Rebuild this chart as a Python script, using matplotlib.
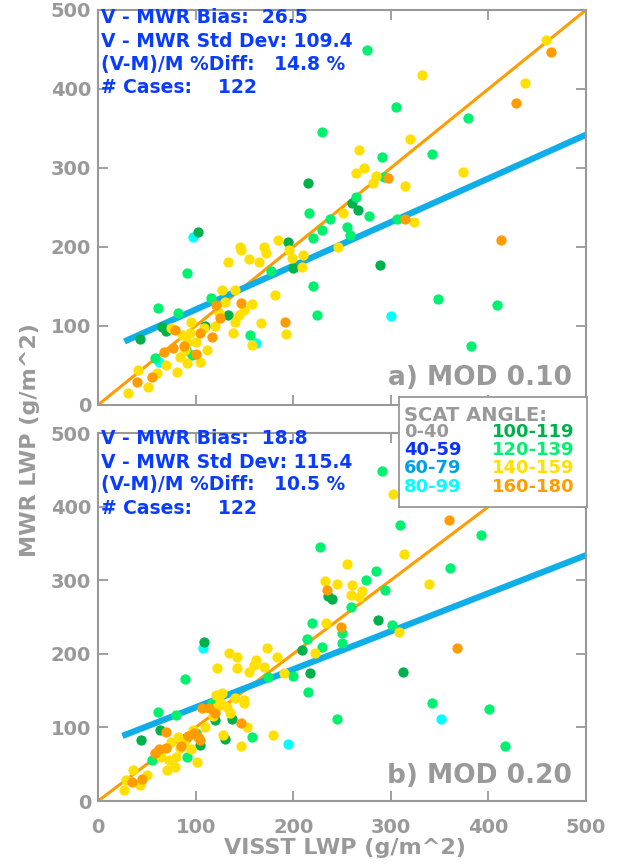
import matplotlib

matplotlib.use("Agg")
import matplotlib.pyplot as plt

plt.rcParams["font.family"] = ["DejaVu Sans"]

GRAY = "#999999"
TXT_BLUE = "#0a3cff"
FIT_BLUE = "#10aee8"
ONE2ONE = "#ff9d00"

# scattering-angle bins for the legend
BINS = ["0-40", "40-59", "60-79", "80-99", "100-119", "120-139", "140-159", "160-180"]
BIN_COLORS = ["#999999", "#0a32ff", "#00a0e6", "#00ffff",
              "#00b04a", "#00f070", "#ffe000", "#ff9d00"]

# ---- panel a) MOD 0.10 : (VISST LWP, MWR LWP) per scattering-angle bin
A_CYAN = [(300, 112), (97, 213), (162, 79), (63, 54)]
A_DKGREEN = [(215, 281), (266, 247), (289, 177), (195, 206), (102, 219), (133, 114),
             (66, 99), (70, 93), (43, 84), (200, 173), (260, 255), (110, 100)]
A_GREEN = [(276, 449), (305, 377), (229, 346), (379, 363), (291, 314), (342, 318),
           (293, 289), (264, 263), (216, 243), (278, 239), (230, 222), (220, 211),
           (306, 236), (258, 215), (220, 150), (224, 114), (348, 134), (409, 127),
           (382, 75), (91, 167), (177, 170), (116, 135), (61, 123), (82, 116),
           (156, 89), (96, 63), (58, 59), (255, 225), (90, 70), (238, 236)]
A_YELLOW = [(332, 418), (459, 462), (438, 407), (320, 337), (267, 323), (264, 294),
            (273, 300), (374, 295), (282, 281), (315, 277), (251, 243), (324, 232),
            (246, 200), (209, 175), (184, 209), (145, 200), (147, 196), (133, 181),
            (172, 192), (165, 181), (196, 196), (199, 186), (181, 139), (127, 146),
            (140, 146), (158, 128), (124, 116), (144, 114), (140, 105), (167, 104),
            (75, 97), (94, 91), (109, 97), (138, 91), (158, 76), (193, 90), (91, 80),
            (89, 70), (84, 61), (91, 53), (81, 42), (104, 54), (41, 44), (51, 23),
            (31, 15), (100, 80), (86, 88), (112, 70), (120, 100), (150, 120),
            (130, 130), (60, 40), (70, 50), (95, 105), (170, 200), (155, 185),
            (210, 190), (285, 290)]
A_ORANGE = [(464, 447), (428, 382), (297, 287), (315, 236), (413, 209), (146, 129),
            (121, 127), (79, 95), (104, 91), (117, 86), (192, 105), (68, 67), (77, 72),
            (40, 29), (88, 75), (125, 110), (55, 35), (100, 65)]
A_FIT_X = [30, 500]
A_FIT_Y = [82, 342]
A_STATS = ["V - MWR Bias:  26.5", "V - MWR Std Dev: 109.4",
           "(V-M)/M %Diff:   14.8 %", "# Cases:    122"]

# ---- panel b) MOD 0.20
B_CYAN = [(351, 111), (108, 208), (195, 77)]
B_DKGREEN = [(236, 279), (287, 246), (209, 205), (217, 174), (313, 175), (109, 216),
             (137, 111), (130, 84), (64, 96), (44, 83), (105, 76), (120, 110),
             (90, 85), (240, 275)]
B_GREEN = [(291, 448), (309, 375), (392, 361), (227, 345), (285, 312), (361, 317),
           (259, 264), (294, 287), (219, 242), (301, 239), (214, 220), (230, 209),
           (250, 215), (215, 148), (342, 133), (245, 111), (401, 125), (417, 75),
           (89, 166), (174, 168), (117, 133), (80, 117), (61, 121), (158, 87),
           (91, 60), (55, 56), (250, 228), (100, 92), (275, 300), (200, 170)]
B_YELLOW = [(302, 417), (314, 336), (255, 322), (233, 299), (339, 295), (260, 293),
            (259, 280), (267, 277), (234, 242), (308, 230), (222, 201), (134, 201),
            (142, 196), (122, 181), (142, 181), (162, 192), (173, 208), (183, 196),
            (170, 182), (191, 174), (121, 144), (127, 147), (150, 137), (150, 133),
            (122, 128), (132, 128), (135, 120), (153, 101), (179, 90), (128, 90),
            (147, 75), (82, 87), (97, 96), (101, 53), (84, 72), (80, 60), (79, 46),
            (71, 42), (36, 42), (43, 22), (27, 15), (29, 29), (73, 56), (140, 140),
            (160, 185), (110, 100), (95, 70), (65, 60), (88, 80), (118, 115),
            (245, 295), (270, 285), (155, 175), (125, 135), (50, 35), (75, 80)]
B_ORANGE = [(360, 382), (235, 287), (249, 236), (368, 208), (107, 126), (114, 126),
            (147, 106), (70, 94), (92, 88), (102, 87), (104, 83), (70, 72), (58, 65),
            (35, 26), (85, 75), (120, 120), (45, 30), (98, 92), (62, 70)]
B_FIT_X = [28, 500]
B_FIT_Y = [90, 334]
B_STATS = ["V - MWR Bias:  18.8", "V - MWR Std Dev: 115.4",
           "(V-M)/M %Diff:   10.5 %", "# Cases:    122"]

TICKS = [0, 100, 200, 300, 400, 500]


def style(ax, xlabels):
    for s in ax.spines.values():
        s.set_color(GRAY)
        s.set_linewidth(1.5)
    ax.set_xlim(0, 500)
    ax.set_ylim(0, 500)
    ax.set_xticks(TICKS)
    ax.set_yticks(TICKS)
    ax.tick_params(direction="in", length=7, width=1.3, color=GRAY, labelcolor=GRAY,
                   labelsize=14, top=True, right=True)
    ax.tick_params(axis="x", pad=12)
    ax.tick_params(axis="y", pad=5)
    for lab in ax.get_xticklabels() + ax.get_yticklabels():
        lab.set_fontweight("bold")
    if not xlabels:
        ax.set_xticklabels([])


def panel(ax, groups, fx, fy, stats, stat_y, label, xlabels):
    ax.plot([0, 500], [0, 500], color=ONE2ONE, lw=2.2, zorder=2)
    ax.plot(fx, fy, color=FIT_BLUE, lw=4.5, zorder=2)
    for pts, col in groups:
        ax.scatter([p[0] for p in pts], [p[1] for p in pts], s=55, color=col,
                   linewidths=0, zorder=3)
    for t, y in zip(stats, stat_y):
        ax.text(0.006, y, t, transform=ax.transAxes, color=TXT_BLUE, fontsize=13.5,
                fontweight="bold", va="center", ha="left", zorder=5)
    ax.text(0.971, 0.067, label, transform=ax.transAxes, color=GRAY, fontsize=19,
            fontweight="bold", va="center", ha="right", zorder=5)
    style(ax, xlabels)


fig = plt.figure(figsize=(6.18, 8.64), dpi=100)
ax1 = fig.add_axes([0.1586, 0.5313, 0.7896, 0.4572])
ax2 = fig.add_axes([0.1586, 0.0729, 0.7896, 0.4259])

panel(ax1, [(A_CYAN, BIN_COLORS[3]), (A_DKGREEN, BIN_COLORS[4]), (A_GREEN, BIN_COLORS[5]),
            (A_YELLOW, BIN_COLORS[6]), (A_ORANGE, BIN_COLORS[7])],
      A_FIT_X, A_FIT_Y, A_STATS, [0.980, 0.919, 0.861, 0.803], "a) MOD 0.10", False)
panel(ax2, [(B_CYAN, BIN_COLORS[3]), (B_DKGREEN, BIN_COLORS[4]), (B_GREEN, BIN_COLORS[5]),
            (B_YELLOW, BIN_COLORS[6]), (B_ORANGE, BIN_COLORS[7])],
      B_FIT_X, B_FIT_Y, B_STATS, [0.986, 0.921, 0.859, 0.796], "b) MOD 0.20", True)

# legend box straddling the two panels
leg = fig.add_axes([0.6456, 0.4132, 0.3042, 0.1273])
leg.set_xticks([])
leg.set_yticks([])
leg.set_facecolor("white")
for s in leg.spines.values():
    s.set_color(GRAY)
    s.set_linewidth(1.3)
leg.text(0.027, 0.836, "SCAT ANGLE:", color=GRAY, fontsize=14, fontweight="bold",
         va="center", transform=leg.transAxes)
rows = [0.682, 0.518, 0.355, 0.182]
for i, (name, col) in enumerate(zip(BINS, BIN_COLORS)):
    x = 0.027 if i < 4 else 0.495
    leg.text(x, rows[i % 4], name, color=col, fontsize=13, fontweight="bold",
             va="center", transform=leg.transAxes)

fig.text(345 / 618, 1 - 848 / 864, "VISST LWP (g/m^2)", color=GRAY, fontsize=16,
         fontweight="bold", ha="center", va="center")
fig.text(30 / 618, 1 - 440 / 864, "MWR LWP (g/m^2)", color=GRAY, fontsize=16,
         fontweight="bold", ha="center", va="center", rotation=90)

fig.savefig("out.png", dpi=100)
